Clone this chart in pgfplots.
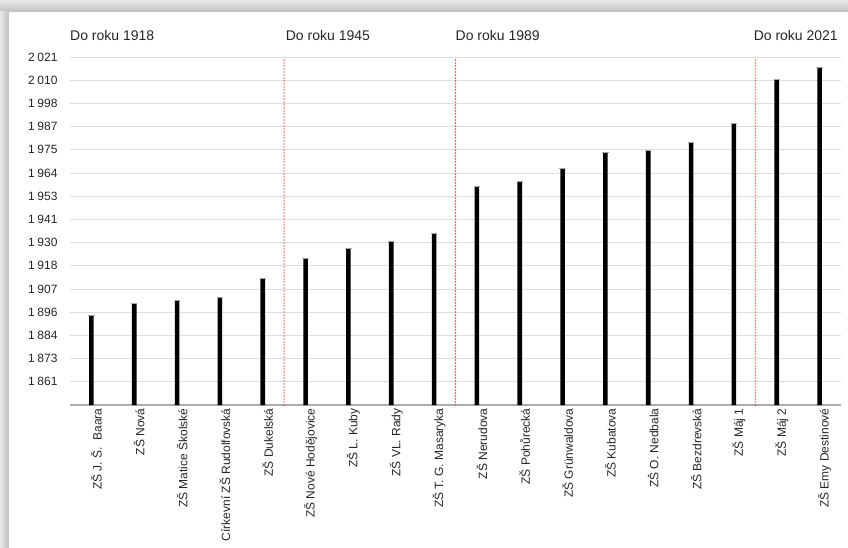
\documentclass[border=0pt]{standalone}
\usepackage{pgfplots}
\usepackage{pgfplotstable}
\pgfplotsset{compat=1.18}
\usepackage{fontspec}
\setmainfont{Liberation Sans}

\definecolor{gridgray}{HTML}{DEDEDE}
\definecolor{basegray}{HTML}{ABABAB}
\definecolor{sepred}{HTML}{F04A40}
\definecolor{txt}{HTML}{262626}
\newcommand\ts{\hspace{0.22em}}

% index, year of founding
\pgfplotstableread{
x year
0 1894
1 1900
2 1901.5
3 1903
4 1912
5 1922
6 1927
7 1930.5
8 1934.5
9 1957.5
10 1960
11 1966
12 1974
13 1975
14 1979
15 1988.5
16 2010
17 2016
}\founded

\begin{document}
\begin{tikzpicture}
% card with a soft shadow on top and left
\fill[gray!28] (-70pt,-142pt) rectangle (778pt,405pt);
\shade[top color=gray!18, bottom color=gray!50] (-70pt,393pt) rectangle (778pt,405pt);
\shade[left color=gray!18, right color=gray!50] (-70pt,-142pt) rectangle (-61pt,393pt);
\fill[white] (-61pt,-142pt) rectangle (778pt,393pt);
\begin{axis}[
    at={(0,0)}, anchor=south west,
    scale only axis,
    width=771pt, height=348pt,
    xmin=-0.5, xmax=17.5,
    ymin=1850, ymax=2021,
    axis x line*=bottom,
    axis y line*=left,
    x axis line style={basegray, line width=1.2pt},
    y axis line style={draw=none},
    major tick length=0pt,
    ymajorgrids,
    grid style={gridgray, line width=0.9pt},
    ytick={1861.4,1872.8,1884.2,1895.6,1907,1918.4,1929.8,1941.2,1952.6,1964,1975.4,1986.8,1998.2,2009.6,2021},
    yticklabels={1\ts861,1\ts873,1\ts884,1\ts896,1\ts907,1\ts918,1\ts930,1\ts941,1\ts953,1\ts964,1\ts975,1\ts987,1\ts998,2\ts010,2\ts021},
    yticklabel style={font=\fontsize{12}{14}\selectfont, text=txt, xshift=-9pt},
    xtick={0,...,17},
    xticklabels={
        ZŠ J. Š.\ \ Baara, ZŠ Nová, ZŠ Matice Školské, Církevní ZŠ Rudolfovská,
        ZŠ Dukelská, ZŠ Nové Hodějovice, ZŠ L. Kuby, ZŠ VL. Rady,
        ZŠ T. G. Masaryka, ZŠ Nerudova, ZŠ Pohůrecká, ZŠ Grünwaldova,
        ZŠ Kubatova, ZŠ O. Nedbala, ZŠ Bezdrevská, ZŠ Máj 1, ZŠ Máj 2,
        ZŠ Emy Destinové},
    xticklabel style={rotate=90, anchor=east, font=\fontsize{12}{14}\selectfont, text=txt, yshift=-5pt},
    clip=false,
    sep/.style={sepred, line width=1.6pt, line cap=round, dash pattern=on 0pt off 3pt, forget plot},
]
\addplot[sep] coordinates {(4.5,1850) (4.5,2021)};
\addplot[sep] coordinates {(8.5,1850) (8.5,2021)};
\addplot[sep] coordinates {(15.5,1850) (15.5,2021)};

\addplot[ybar, bar width=4.6pt, bar shift=0pt, fill=black, draw=none] table[x=x, y=year] {\founded};
\addplot[only marks, mark=-, mark size=3.2pt, mark options={gray!70, line width=0.9pt}] table[x=x, y=year] {\founded};

\node[anchor=base west, inner sep=0pt, yshift=17pt, font=\fontsize{14}{16}\selectfont, text=txt] at (axis cs:-0.5,2021) {Do roku 1918};
\node[anchor=base west, inner sep=0pt, yshift=17pt, xshift=1.5pt, font=\fontsize{14}{16}\selectfont, text=txt] at (axis cs:4.5,2021) {Do roku 1945};
\node[anchor=base west, inner sep=0pt, yshift=17pt, font=\fontsize{14}{16}\selectfont, text=txt] at (axis cs:8.5,2021) {Do roku 1989};
\node[anchor=base east, inner sep=0pt, yshift=17pt, xshift=-3pt, font=\fontsize{14}{16}\selectfont, text=txt] at (axis cs:17.5,2021) {Do roku 2021};
\end{axis}
\useasboundingbox (-70pt,-142pt) rectangle (778pt,405pt);
\end{tikzpicture}
\end{document}
